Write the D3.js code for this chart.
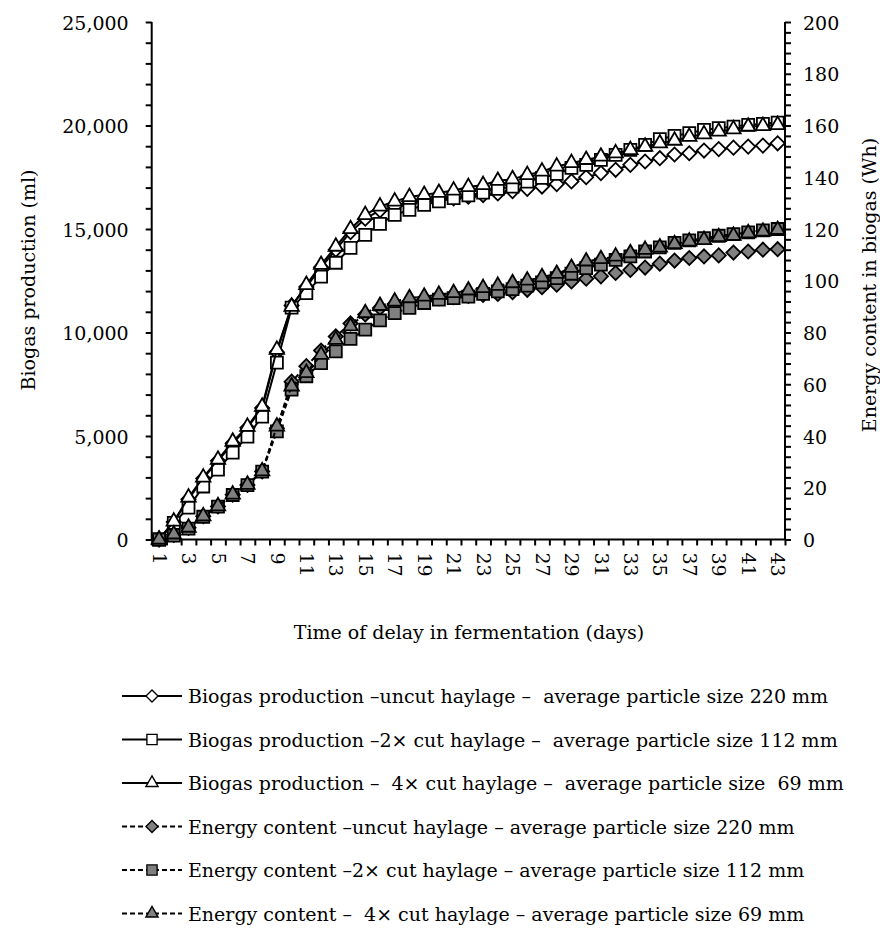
<!DOCTYPE html>
<html><head><meta charset="utf-8">
<script src="https://cdn.jsdelivr.net/npm/d3@7"></script>
<style>
body{margin:0;background:#fff}
text{font-family:"DejaVu Serif","Liberation Serif",serif;fill:#000}
</style>
</head><body>
<svg id="c" width="880" height="929"></svg>
<script>
// ---------- DATA ----------
const days = d3.range(1, 44);
const biogasUncut = [0,850,1950,2950,3800,4650,5400,6350,9050,11300,12200,13150,14000,14850,15500,15900,16100,16250,16350,16420,16480,16560,16640,16720,16830,16940,17050,17170,17300,17500,17700,17860,18100,18260,18420,18600,18660,18790,18860,18930,18980,19030,19140];
const biogas2x = [0,800,1540,2560,3380,4200,4970,5940,8540,11200,11900,12700,13370,14090,14720,15250,15680,15920,16170,16330,16490,16620,16760,16940,17050,17290,17470,17660,17950,18100,18340,18580,18820,19060,19340,19500,19630,19790,19870,19950,20030,20080,20140];
const biogas4x = [0,870,2030,3000,3860,4730,5450,6420,9170,11250,12300,13270,14150,15000,15680,16090,16330,16550,16650,16750,16860,17030,17130,17330,17410,17610,17780,18020,18190,18340,18500,18660,18820,18980,19140,19270,19460,19580,19710,19820,19950,19980,20030];
const energyUncut = [0,1.8,4.5,9.0,12.8,17.3,21.1,26.3,43.0,61,67,73,78.5,83.5,87,89.5,91,92,92.8,93.3,93.7,94.1,94.5,94.9,95.6,96.5,97.5,98.5,99.7,100.8,101.7,103.0,104.2,105.1,106.6,107.8,108.8,109.4,109.8,110.9,111.3,112.0,112.2];
const energy2x = [0,1.5,4.2,8.8,12.7,17.2,21.0,26.2,41.8,57.9,63.1,68.2,72.7,77.5,81.1,84.7,87.5,89.5,91.4,92.7,93.3,93.9,94.9,95.9,96.8,98.1,99.4,101.0,102.7,104.9,106.2,108.1,109.4,111.3,112.9,114.6,115.6,116.5,117.4,118.0,118.7,119.5,120.0];
const energy4x = [0,2,4.6,9.0,12.9,17.4,21.2,26.4,43.7,59.2,64.4,71.4,77.2,82.4,87.5,90.3,92.0,93.3,93.9,94.6,95.3,96.3,97.2,98.1,99.1,100.1,101.4,102.7,105,107.5,108.4,109.4,110.7,112.0,112.9,114.2,115.2,115.8,116.9,117.4,118.4,119.0,119.7];
const leftTicks = d3.range(0, 25001, 1000);
const leftLabels = [0, 5000, 10000, 15000, 20000, 25000];
const rightTicks = d3.range(0, 201, 4);
const rightLabels = [0, 20, 40, 60, 80, 100, 120, 140, 160, 180, 200];
const xLabelDays = d3.range(1, 44, 2);
const legendLabels = [
  "Biogas production \u2013uncut haylage \u2013  average particle size 220 mm",
  "Biogas production \u20132\u00d7 cut haylage \u2013  average particle size 112 mm",
  "Biogas production \u2013  4\u00d7 cut haylage \u2013  average particle size  69 mm",
  "Energy content \u2013uncut haylage \u2013 average particle size 220 mm",
  "Energy content \u20132\u00d7 cut haylage \u2013 average particle size 112 mm",
  "Energy content \u2013  4\u00d7 cut haylage \u2013 average particle size 69 mm"
];
const xTitle = "Time of delay in fermentation (days)";
const yTitleLeft = "Biogas production (ml)";
const yTitleRight = "Energy content in biogas (Wh)";

// ---------- LAYOUT ----------
const L = 151.7, R = 785, T = 22, B = 539.5;
const FS = 19;
const FF = '"DejaVu Serif","Liberation Serif",serif';
const svg = d3.select("#c");

const x = d3.scaleLinear().domain([0.5, 43.5]).range([L, R]);
const yL = d3.scaleLinear().domain([0, 25000]).range([B, T]);
const yR = d3.scaleLinear().domain([0, 200]).range([B, T]);

const series = [
  {vals: biogasUncut, y: yL, shape: "diamond", fill: "#fff", dash: null},
  {vals: biogas2x,    y: yL, shape: "square",  fill: "#fff", dash: null},
  {vals: biogas4x,    y: yL, shape: "triangle",fill: "#fff", dash: null},
  {vals: energyUncut, y: yR, shape: "diamond", fill: "#808080", dash: "5,3"},
  {vals: energy2x,    y: yR, shape: "square",  fill: "#808080", dash: "5,3"},
  {vals: energy4x,    y: yR, shape: "triangle",fill: "#808080", dash: "5,3"}
];
const sym = {
  diamond: {path: d3.symbol(d3.symbolSquare, 100)(), rot: 45},
  square: {path: d3.symbol(d3.symbolSquare, 144)(), rot: 0},
  triangle: {path: d3.symbol(d3.symbolTriangle, 90)(), rot: 0}
};

// Axes
const axL = d3.axisLeft(yL).tickValues(leftTicks).tickSize(6)
  .tickFormat(d => leftLabels.includes(d) ? d3.format(",")(d) : "");
const gL = svg.append("g").attr("transform", `translate(${L},0)`).call(axL);
const axR = d3.axisRight(yR).tickValues(rightTicks).tickSize(6)
  .tickFormat(d => rightLabels.includes(d) ? d : "");
const gR = svg.append("g").attr("transform", `translate(${R},0)`).call(axR);
const axB = d3.axisBottom(x).tickValues(d3.range(0.5, 44, 1)).tickSize(6).tickFormat("");
const gB = svg.append("g").attr("transform", `translate(0,${B})`).call(axB);
const axBL = d3.axisBottom(x).tickValues(xLabelDays).tickSize(0).tickPadding(0);
const gBL = svg.append("g").attr("transform", `translate(0,${B})`).call(axBL);
gBL.select(".domain").remove();
gBL.selectAll("text").attr("transform", "rotate(90)").attr("text-anchor", "start")
  .attr("x", 13).attr("y", 0).attr("dy", "0.36em");

[gL, gR, gB].forEach(g => {
  g.select(".domain").attr("stroke", "#000").attr("stroke-width", 2);
  g.selectAll(".tick line").attr("stroke", "#000").attr("stroke-width", 2);
});
[gL, gR, gBL].forEach(g => { g.attr("font-family", FF).attr("font-size", FS);
  g.selectAll("text").attr("font-size", FS).attr("fill", "#000"); });
gL.selectAll("text").attr("x", -23).attr("dy", "0.38em");
gR.selectAll("text").attr("x", 18).attr("dy", "0.38em");
gL.select(".domain").attr("d", `M0,${B}V${T}`);
gR.select(".domain").attr("d", `M0,${B}V${T}`);
gB.select(".domain").attr("d", `M${L},0H${R}`);

// Series
series.forEach(s => {
  const g = svg.append("g");
  const line = d3.line().x((d, i) => x(days[i])).y(d => s.y(d));
  g.append("path").datum(s.vals).attr("d", line).attr("fill", "none")
    .attr("stroke", "#000").attr("stroke-width", 2).attr("stroke-dasharray", s.dash);
  g.selectAll("path.m").data(s.vals).join("path").attr("class", "m")
    .attr("d", sym[s.shape].path)
    .attr("transform", (d, i) => `translate(${x(days[i])},${s.y(d)}) rotate(${sym[s.shape].rot})`)
    .attr("fill", s.fill).attr("stroke", "#000").attr("stroke-width", 1.8);
});

// Titles
svg.append("text").attr("x", 469).attr("y", 639).attr("text-anchor", "middle")
  .attr("font-size", FS).text(xTitle);
svg.append("text").attr("transform", "translate(35,280) rotate(-90)").attr("text-anchor", "middle")
  .attr("font-size", FS).text(yTitleLeft);
svg.append("text").attr("transform", "translate(876,285) rotate(-90)").attr("text-anchor", "middle")
  .attr("font-size", FS).text(yTitleRight);

// Legend
const lg = svg.append("g");
series.forEach((s, i) => {
  const yy = 696 + i * 43.5;
  lg.append("line").attr("x1", 122).attr("x2", 182).attr("y1", yy).attr("y2", yy)
    .attr("stroke", "#000").attr("stroke-width", 1.8).attr("stroke-dasharray", s.dash);
  lg.append("path").attr("d", sym[s.shape].path)
    .attr("transform", `translate(152,${yy}) rotate(${sym[s.shape].rot}) scale(0.85)`)
    .attr("fill", s.fill).attr("stroke", "#000").attr("stroke-width", 1.6);
  lg.append("text").attr("x", 188).attr("y", yy + 7).attr("font-size", FS)
    .style("white-space", "pre").text(legendLabels[i]);
});
</script>
</body></html>
